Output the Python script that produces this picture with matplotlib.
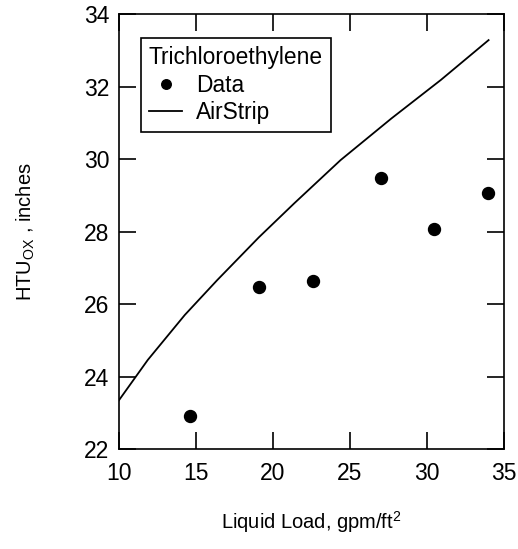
import matplotlib
matplotlib.use("Agg")
import matplotlib.pyplot as plt

plt.rcParams["font.family"] = ["Liberation Sans", "DejaVu Sans"]
plt.rcParams["mathtext.default"] = "regular"

# Measured HTU values (Trichloroethylene)
data_load = [14.66, 19.09, 22.59, 27.05, 30.43, 33.95]
data_htu = [22.91, 26.46, 26.63, 29.48, 28.06, 29.07]

# AirStrip model prediction
model_load = [10.0, 11.9, 14.3, 16.4, 19.1, 21.4, 24.4, 27.7, 30.9, 34.0]
model_htu = [23.33, 24.46, 25.70, 26.66, 27.84, 28.78, 29.97, 31.12, 32.18, 33.28]

x_ticks = [10, 15, 20, 25, 30, 35]
y_ticks = [22, 24, 26, 28, 30, 32, 34]

fig = plt.figure(figsize=(5.18, 5.49), dpi=100)
ax = fig.add_axes([0.2288, 0.182, 0.7442, 0.7925])

ax.plot(data_load, data_htu, "o", color="black", markersize=8.6, label="Data")
ax.plot(model_load, model_htu, "-", color="black", linewidth=1.3, label="AirStrip")

ax.set_xlim(10, 35)
ax.set_ylim(22, 34)
ax.set_xticks(x_ticks)
ax.set_yticks(y_ticks)
ax.tick_params(direction="in", length=12, width=1.2, labelsize=16.5,
               top=True, right=True, colors="black")
ax.tick_params(axis="x", pad=9.5)
ax.tick_params(axis="y", pad=6.5)
for s in ax.spines.values():
    s.set_linewidth(1.2)

ax.set_xlabel("Liquid Load, gpm/ft$^2$", fontsize=14.5, labelpad=17)
ax.set_ylabel("HTU$_{OX}$ , inches", fontsize=14.5, labelpad=34)

leg = ax.legend(title="Trichloroethylene", loc="upper left",
                bbox_to_anchor=(0.0576, 0.944), borderaxespad=0,
                fontsize=16.4, title_fontsize=16.4, frameon=True,
                fancybox=False, edgecolor="black", framealpha=1,
                borderpad=0.35, handlelength=1.48, handletextpad=0.6,
                labelspacing=0.2, markerscale=0.8, alignment="left")
leg.get_frame().set_linewidth(1.2)

fig.savefig("out.png", dpi=100)
